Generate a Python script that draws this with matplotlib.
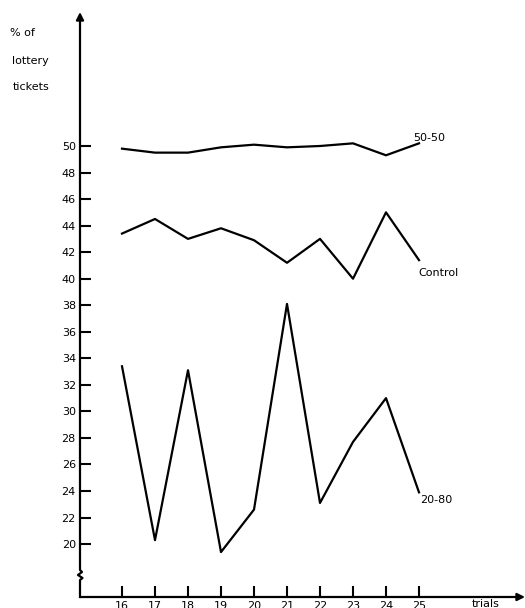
import matplotlib
matplotlib.use("Agg")
import matplotlib.pyplot as plt

# values (percent of lottery tickets per trial)
trials = [16, 17, 18, 19, 20, 21, 22, 23, 24, 25]
fifty_fifty = [49.8, 49.5, 49.5, 49.9, 50.1, 49.9, 50.0, 50.2, 49.3, 50.2]
control = [43.4, 44.5, 43.0, 43.8, 42.9, 41.2, 43.0, 40.0, 45.0, 41.4]
twenty_eighty = [33.4, 20.3, 33.1, 19.4, 22.6, 38.1, 23.1, 27.7, 31.0, 23.9]
y_ticks = list(range(20, 51, 2))
series_names = ["50-50", "Control", "20-80"]

W, H = 525, 608
fig = plt.figure(figsize=(W / 100, H / 100), dpi=100)

# axes frame in pixels: left 80, right 520, top 12, bottom 597
ax = fig.add_axes([80 / W, 1 - 597 / H, 440 / W, 585 / H])
xmin = 16 - 42 / 33
xmax = xmin + 440 / 33
ymin = 50 - 451 / 13.27
ymax = ymin + 585 / 13.27
ax.set_xlim(xmin, xmax)
ax.set_ylim(ymin, ymax)

for s in ax.spines.values():
    s.set_visible(False)

lw = 1.6
ax.plot(trials, fifty_fifty, color="black", lw=lw)
ax.plot(trials, control, color="black", lw=lw)
ax.plot(trials, twenty_eighty, color="black", lw=lw)

# y axis with a break zigzag near the bottom
u = 1 / 33  # one pixel in x data units
v = 1 / 13.27  # one pixel in y data units
ax.plot([xmin, xmin, xmin + 2.5 * u, xmin - 2 * u, xmin + 2 * u, xmin, xmin],
        [ymin, ymin + 17 * v, ymin + 19 * v, ymin + 22 * v, ymin + 25 * v,
         ymin + 27 * v, ymax - 6 * v],
        color="black", lw=lw, clip_on=False)
ax.annotate("", xy=(xmin, ymax), xytext=(xmin, ymax - 8 * v),
            arrowprops=dict(arrowstyle="-|>", color="black", lw=lw,
                            mutation_scale=11, shrinkA=0, shrinkB=0),
            annotation_clip=False)
# x axis with arrow
ax.annotate("", xy=(xmax + 5 * u, ymin), xytext=(xmin, ymin),
            arrowprops=dict(arrowstyle="-|>", color="black", lw=lw,
                            mutation_scale=11, shrinkA=0, shrinkB=0),
            annotation_clip=False)

ax.set_xticks(trials)
ax.set_xticklabels([str(t) for t in trials])
ax.set_yticks(y_ticks)
ax.set_yticklabels([str(t) for t in y_ticks])
ax.tick_params(direction="in", length=8, width=1.5, labelsize=8, pad=3)

# series labels at the line ends
ax.text(24.82, 50.6, series_names[0], fontsize=8, va="center", ha="left")
ax.text(24.97, 40.4, series_names[1], fontsize=8, va="center", ha="left")
ax.text(25.03, 23.3, series_names[2], fontsize=8, va="center", ha="left")
ax.text(26.6, 15.45, "trials", fontsize=8, va="center", ha="left",
        clip_on=False)

# y axis title, stacked
fig.text(10 / W, 1 - 33 / H, "% of", fontsize=8, va="center", ha="left")
fig.text(12 / W, 1 - 61 / H, "lottery", fontsize=8, va="center", ha="left")
fig.text(13 / W, 1 - 87 / H, "tickets", fontsize=8, va="center", ha="left")

fig.savefig("out.png", dpi=100)
